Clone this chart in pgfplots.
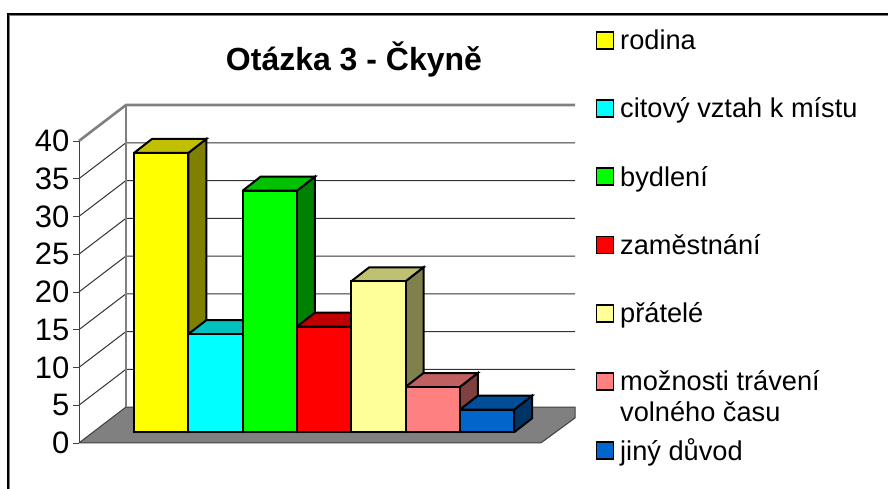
\documentclass[border=0pt]{standalone}
\usepackage{pgfplots}
\pgfplotsset{compat=1.18}
\usepackage{fontspec}
\setmainfont{Liberation Sans}
\definecolor{fl}{HTML}{808080}
\definecolor{y1}{HTML}{FFFF00}\definecolor{y2}{HTML}{C0C000}\definecolor{y3}{HTML}{808000}
\definecolor{c1}{HTML}{00FFFF}\definecolor{c2}{HTML}{00C0C0}\definecolor{c3}{HTML}{008080}
\definecolor{g1}{HTML}{00FF00}\definecolor{g2}{HTML}{00C000}\definecolor{g3}{HTML}{008000}
\definecolor{r1}{HTML}{FF0000}\definecolor{r2}{HTML}{C00000}\definecolor{r3}{HTML}{800000}
\definecolor{l1}{HTML}{FFFF99}\definecolor{l2}{HTML}{C0C073}\definecolor{l3}{HTML}{80804D}
\definecolor{p1}{HTML}{FF8080}\definecolor{p2}{HTML}{C06060}\definecolor{p3}{HTML}{804040}
\definecolor{b1}{HTML}{0066CC}\definecolor{b2}{HTML}{004D99}\definecolor{b3}{HTML}{003366}
\pgfplotsset{
  face/.style={draw=black,line width=2pt,line join=miter,fill=#1,forget plot},
  grid3d/.style={draw=black!80,line width=1pt,forget plot},
  wall3d/.style={draw=black!50,line width=2.6pt,forget plot},
  front/.style={ybar,bar width=54.3pt,bar shift=0pt,draw=black,line width=2pt,fill=#1,
    legend image code/.code={\draw[fill=#1,draw=black,line width=1.7pt] (0pt,-8.5pt) rectangle (17pt,8.5pt);}},
}
\begin{document}
\begin{tikzpicture}[x=1pt,y=1pt]
\useasboundingbox (0,0) rectangle (888,488);
\fill[white] (0,0) rectangle (888,488);
\draw[black!50,line width=0.8pt] (9,-5) -- (9,472.7) -- (893,472.7);
\draw[black,line width=1.1pt] (8,-5) -- (8,474) -- (893,474);
\begin{axis}[name=main,at={(0pt,0pt)},anchor=south west,scale only axis,width=888pt,height=488pt,
  xmin=0,xmax=888,ymin=-7.377,ymax=57.258,hide axis,clip=false,
  legend style={at={(axis cs:595.5,53.3)},anchor=north west,draw=none,fill=none,font=\fontsize{27.2}{28}\selectfont,
    row sep=46.7pt,inner sep=0pt,outer sep=0pt,nodes={inner sep=0pt,outer sep=0pt},column sep=6pt},
  legend cell align=left]
% floor
\addplot[draw=black!75,line width=1pt,fill=fl,forget plot] coordinates {(79,-1.4)(126,3.35)(575,3.35)(575,1.9)(541,-1.4)(79,-1.4)};
% gridlines
\addplot[grid3d] coordinates {(79,3.6)(126,8.35)(575,8.35)};
\addplot[grid3d] coordinates {(79,8.6)(126,13.35)(575,13.35)};
\addplot[grid3d] coordinates {(79,13.6)(126,18.35)(575,18.35)};
\addplot[grid3d] coordinates {(79,18.6)(126,23.35)(575,23.35)};
\addplot[grid3d] coordinates {(79,23.6)(126,28.35)(575,28.35)};
\addplot[grid3d] coordinates {(79,28.6)(126,33.35)(575,33.35)};
\addplot[grid3d] coordinates {(79,33.6)(126,38.35)(575,38.35)};
\addplot[wall3d] coordinates {(79,38.6)(126,43.35)(575,43.35)};
\addplot[wall3d] coordinates {(126,3.35)(126,43.35)};
% bars
\addplot[face=y3] coordinates {(188.3,0)(206.3,1.854)(206.3,38.854)(188.3,37)(188.3,0)};
\addplot[face=y2] coordinates {(134,37)(188.3,37)(206.3,38.854)(152,38.854)(134,37)};
\addplot[front=y1] coordinates {(161.15,37)};
\addlegendentry{\strut rodina}
\addplot[face=c3] coordinates {(242.6,0)(260.6,1.854)(260.6,14.854)(242.6,13)(242.6,0)};
\addplot[face=c2] coordinates {(188.3,13)(242.6,13)(260.6,14.854)(206.3,14.854)(188.3,13)};
\addplot[front=c1] coordinates {(215.45,13)};
\addlegendentry{\strut citový vztah k místu}
\addplot[face=g3] coordinates {(296.9,0)(314.9,1.854)(314.9,33.854)(296.9,32)(296.9,0)};
\addplot[face=g2] coordinates {(242.6,32)(296.9,32)(314.9,33.854)(260.6,33.854)(242.6,32)};
\addplot[front=g1] coordinates {(269.75,32)};
\addlegendentry{\strut bydlení}
\addplot[face=r3] coordinates {(351.2,0)(369.2,1.854)(369.2,15.854)(351.2,14)(351.2,0)};
\addplot[face=r2] coordinates {(296.9,14)(351.2,14)(369.2,15.854)(314.9,15.854)(296.9,14)};
\addplot[front=r1] coordinates {(324.05,14)};
\addlegendentry{\strut zaměstnání}
\addplot[face=l3] coordinates {(405.5,0)(423.5,1.854)(423.5,21.854)(405.5,20)(405.5,0)};
\addplot[face=l2] coordinates {(351.2,20)(405.5,20)(423.5,21.854)(369.2,21.854)(351.2,20)};
\addplot[front=l1] coordinates {(378.35,20)};
\addlegendentry{\strut přátelé}
\addplot[face=p3] coordinates {(459.8,0)(477.8,1.854)(477.8,7.854)(459.8,6)(459.8,0)};
\addplot[face=p2] coordinates {(405.5,6)(459.8,6)(477.8,7.854)(423.5,7.854)(405.5,6)};
\addplot[front=p1] coordinates {(432.65,6)};
\addlegendentry{\strut\smash{\parbox[t]{262pt}{\fontsize{27.2}{31}\selectfont možnosti trávení\\volného času}}}
\addplot[face=b3] coordinates {(514.1,0)(532.1,1.854)(532.1,4.854)(514.1,3)(514.1,0)};
\addplot[face=b2] coordinates {(459.8,3)(514.1,3)(532.1,4.854)(477.8,4.854)(459.8,3)};
\addplot[front=b1] coordinates {(486.95,3)};
\addlegendentry{\strut jiný důvod}
\node[font=\fontsize{32}{36}\selectfont\bfseries] at (axis cs:354,49.44) {Otázka 3 - Čkyně};
\end{axis}
\begin{axis}[at={(79pt,45pt)},anchor=south west,scale only axis,width=496pt,height=302pt,
  xmin=0,xmax=1,ymin=0,ymax=40,ytick={0,5,...,40},
  axis x line=none,axis y line=left,y axis line style={-,draw=black!75,line width=1pt},
  y tick style={draw=black!75,line width=1pt},tick align=outside,major tick length=6pt,
  yticklabel style={font=\fontsize{31}{34}\selectfont,/pgf/number format/assume math mode=true,xshift=0pt},
  ]
\addplot[draw=none,forget plot] coordinates {(0,0)(1,40)};
\end{axis}
\end{tikzpicture}
\end{document}
